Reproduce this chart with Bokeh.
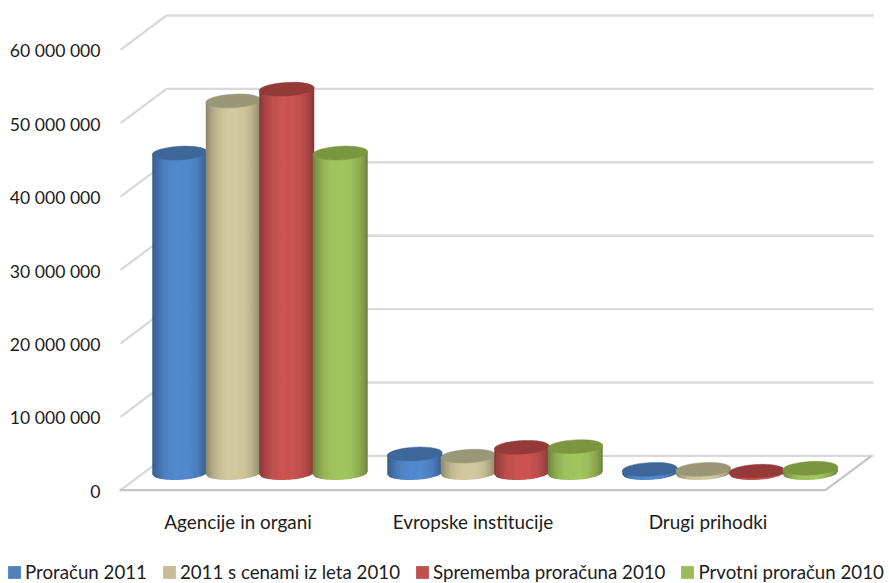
from bokeh.plotting import figure
from bokeh.models import Range1d, Legend, LegendItem
from bokeh.core.properties import value
from bokeh.embed import file_html
from bokeh.resources import INLINE
import math

categories = ["Agencije in organi", "Evropske institucije", "Drugi prihodki"]
series_names = ["Proračun 2011", "2011 s cenami iz leta 2010", "Sprememba proračuna 2010", "Prvotni proračun 2010"]
proracun_2011 = [43600000, 2600000, 500000]
cene_2010 = [50700000, 2300000, 500000]
sprememba_2010 = [52300000, 3500000, 250000]
prvotni_2010 = [43600000, 3600000, 650000]
y_ticks = [0, 10000000, 20000000, 30000000, 40000000, 50000000, 60000000]
y_labels = ["0", "10 000 000", "20 000 000", "30 000 000", "40 000 000", "50 000 000", "60 000 000"]

side_colors = ["#5289CF", "#D2CA9F", "#CB5452", "#A3C55F"]
top_colors = ["#3C6798", "#9A9678", "#943A38", "#7A9740"]
legend_colors = ["#4F81BD", "#C4BD97", "#C0504D", "#9BBB59"]
all_series = [proracun_2011, cene_2010, sprememba_2010, prvotni_2010]

FONT = "Lato"
TEXT = "#1c1c1c"
W, H = 889, 583
X_LEFT = 120.0               # front-left corner of the floor, page pixels
Y_ZERO = 489.7               # front edge of the floor, page pixels
PX_CAT = 235.0
PX_VAL = 73.4 / 10000000
DX = 46.0 / PX_CAT           # wall depth in x units
DY = 34.3 / PX_VAL           # wall depth in y units


def shade(hex_color, f):
    r, g, b = (int(hex_color[i:i + 2], 16) for i in (1, 3, 5))
    return "#%02x%02x%02x" % (int(r * f), int(g * f), int(b * f))


x_start = -0.5 - X_LEFT / PX_CAT
y_start = (Y_ZERO - H) / PX_VAL
p = figure(width=W, height=H, output_backend="svg", toolbar_location=None,
           x_range=Range1d(x_start, x_start + W / PX_CAT),
           y_range=Range1d(y_start, y_start + H / PX_VAL),
           x_axis_location=None, y_axis_location=None,
           min_border=0)
p.grid.visible = False
p.outline_line_color = None
p.background_fill_color = "white"
p.border_fill_color = "white"

xl, xr = -0.5, 2.5
p.segment(x0=[xl + DX] * 7, x1=[xr + DX + 2 / PX_CAT] * 7, y0=[v + DY for v in y_ticks], y1=[v + DY for v in y_ticks],
          line_color="#DADADA", line_width=2.4)
p.segment(x0=[xl] * 7, x1=[xl + DX] * 7, y0=y_ticks, y1=[v + DY for v in y_ticks],
          line_color="#D8D8D8", line_width=2.2)
p.segment(x0=[xl - 1 / PX_CAT, xr], x1=[xr, xr + DX], y0=[0, 0], y1=[0, DY], line_color="#C4C4C4", line_width=2.2)

BAR_W = 55.0
STEP = 53.5
ELL_H = 13.5
TILT = 0.055
N = 30
n_s = len(all_series)
for ci in range(len(categories)):
    for si in range(n_s):
        val = all_series[si][ci]
        cx = ci + DX / 2 - 1 / PX_CAT + (si - (n_s - 1) / 2) * STEP / PX_CAT
        xs, ys, cols = [], [], []
        for k in range(N):
            u0 = -1 + 2 * k / N
            u1 = -1 + 2 * (k + 1) / N
            um = (u0 + u1) / 2
            x0 = cx + u0 * BAR_W / 2 / PX_CAT
            x1 = cx + u1 * BAR_W / 2 / PX_CAT + (0.7 / PX_CAT if k < N - 1 else 0)
            base = DY / 2
            b0 = base + (-ELL_H / 2 * math.sqrt(max(0, 1 - u0 * u0)) + TILT * u0 * BAR_W / 2) / PX_VAL
            b1 = base + (-ELL_H / 2 * math.sqrt(max(0, 1 - u1 * u1)) + TILT * u1 * BAR_W / 2) / PX_VAL
            t0 = base + val + TILT * u0 * BAR_W / 2 / PX_VAL
            t1 = base + val + TILT * u1 * BAR_W / 2 / PX_VAL
            xs.append([x0, x1, x1, x0])
            ys.append([b0, b1, t1, t0])
            cols.append(shade(side_colors[si], 0.66 + 0.34 * (1 - abs(um) ** 2.6)))
        p.patches(xs, ys, fill_color=cols, line_color=None)
        p.ellipse([cx], [DY / 2 + val], width=BAR_W, height=ELL_H, width_units="screen", height_units="screen",
                  angle=TILT, fill_color=top_colors[si], line_color=top_colors[si], line_width=0.5)

# axis labels
p.text(x=[xl] * 7, y=y_ticks, text=y_labels, x_offset=-20, y_offset=1, text_align="right", text_baseline="middle",
       text_font=value(FONT), text_font_size="17.6px", text_color=TEXT)
p.text(x=list(range(len(categories))), y=[0] * len(categories), text=categories, y_offset=31,
       text_align="center", text_baseline="middle",
       text_font=value(FONT), text_font_size="18.9px", text_color=TEXT)

# legend
items = []
for name, col in zip(series_names, legend_colors):
    r = p.quad(left=[float("nan")], right=[float("nan")], top=[float("nan")], bottom=[float("nan")],
               fill_color=col, line_color=None)
    items.append(LegendItem(label=name, renderers=[r]))
leg = Legend(items=items, orientation="horizontal", location=(6, 0), padding=0, margin=0,
             spacing=14, glyph_width=16, glyph_height=16, label_standoff=3,
             label_text_font=FONT, label_text_font_size="18.7px", label_text_color=TEXT,
             border_line_color=None, background_fill_alpha=0)
p.add_layout(leg, "center")

open("out.html", "w").write(file_html(p, INLINE))
